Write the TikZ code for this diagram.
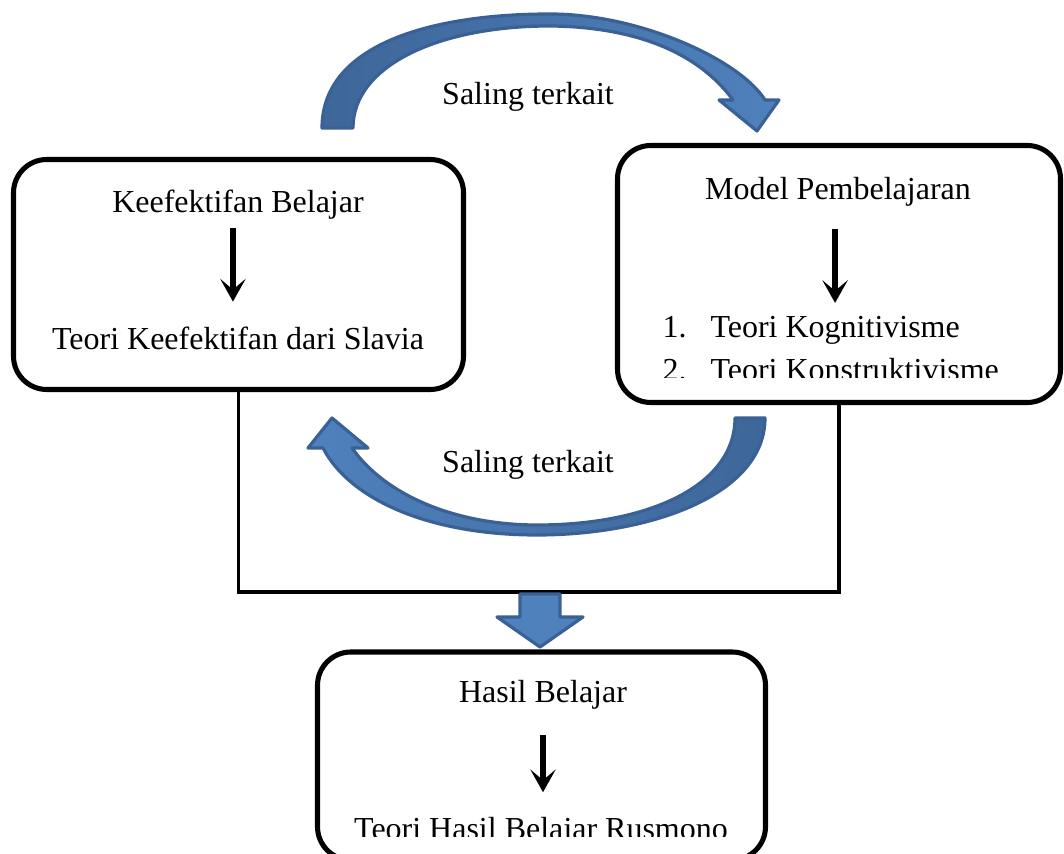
\documentclass[tikz,border=0pt]{standalone}
\usepackage{fontspec}
\setmainfont{Liberation Serif}
\usetikzlibrary{arrows.meta}

\newlength\px
\setlength\px{0.375pt}

\definecolor{arrowfill}{HTML}{4F81BD}
\definecolor{arrowdark}{HTML}{3E6699}
\definecolor{arrowdraw}{HTML}{3A6195}

\begin{document}
\begin{tikzpicture}[x=0.375pt,y=-0.375pt,font=\fontsize{12}{14}\selectfont]

  \tikzset{
    box/.style={draw, line width=1.9pt, rounded corners=12.5pt},
    txt/.style={inner sep=0pt, anchor=base},
    link/.style={line width=1.4pt},
    pointer/.style={line width=2pt, -{Stealth[length=8.5pt,width=9.5pt,inset=4pt]}},
    bigarrow/.style={draw=arrowdraw, line width=1.2pt, line join=round},
  }

  \useasboundingbox (0,0) rectangle (1064,854);

   % BOXES

   \node[box, minimum width=450*\px, minimum height=230*\px] (keef) at (238.5,274.5) {};
   \node[box, minimum width=443*\px, minimum height=257*\px] (model) at (839,274) {};
   \node[box, minimum width=448*\px, minimum height=208*\px] (hasil) at (541.5,756) {};

   % LEFT BOX

   \node[txt] (keeftitle) at (238,213) {Keefektifan Belajar};
   \node[txt] (keefteori) at (238,350) {Teori Keefektifan dari Slavia};
   \draw[pointer, shorten <=3pt, shorten >=9.5pt]
     ([xshift=-1.9pt]keeftitle.south) -- ([xshift=-1.9pt]keefteori.north);

   % RIGHT BOX

   \node[txt] (modeltitle) at (838,200) {Model Pembelajaran};
   \node[txt, anchor=base west] (kog) at (662,338) {\makebox[18pt][l]{1.}Teori Kognitivisme};
   \begin{scope}
     \clip (617,340) rectangle (1061,378);
     \node[txt, anchor=base west] (kons) at (662,381) {\makebox[18pt][l]{2.}Teori Konstruktivisme};
   \end{scope}
   \draw[pointer, shorten <=8pt, shorten >=5pt]
     ([xshift=-1.1pt]modeltitle.south) -- ([xshift=-1.1pt]modeltitle.south |- kog.north);

   % BOTTOM BOX

   \node[txt] (hasiltitle) at (543,703) {Hasil Belajar};
   \begin{scope}
     \clip (317,780) rectangle (766,837);
     \node[txt] (hasilteori) at (541,840) {Teori Hasil Belajar Rusmono};
   \end{scope}
   \draw[pointer, shorten <=9.4pt, shorten >=9.4pt] (hasiltitle.south) -- (hasiltitle.south |- hasilteori.north);

   % JOINING LINES

   \coordinate (join) at (540,592);
   \draw[link] (keef.south) |- (join) -| (model.south);
   \draw[bigarrow, fill=arrowfill] (520,594) -- (560,594) -- (560,617) -- (583,617)
     -- (540,647) -- (497,617) -- (520,617) -- cycle;

   % CURVED ARROWS

   \node[txt] (linktop) at (528,105) {Saling terkait};
   \draw[bigarrow, left color=arrowdark, right color=arrowfill]
     (322,128) .. controls (322,45) and (430,14) .. (550,14)
     .. controls (640,14) and (740,60) .. (765,100)
     -- (779,100) -- (757,131) -- (719,100) -- (733,100)
     .. controls (700,55) and (640,27) .. (550,26)
     .. controls (440,26) and (353,65) .. (353,128) -- cycle;

   \node[txt] (linkbottom) at (528,473) {Saling terkait};
   \draw[bigarrow, left color=arrowfill, right color=arrowdark]
     (765,418) .. controls (765,495) and (650,535) .. (537,535)
     .. controls (430,535) and (350,500) .. (323,448)
     -- (308,448) -- (332,418) -- (368,448) -- (352,448)
     .. controls (385,495) and (455,525) .. (537,525)
     .. controls (650,525) and (735,485) .. (735,418) -- cycle;

\end{tikzpicture}
\end{document}
